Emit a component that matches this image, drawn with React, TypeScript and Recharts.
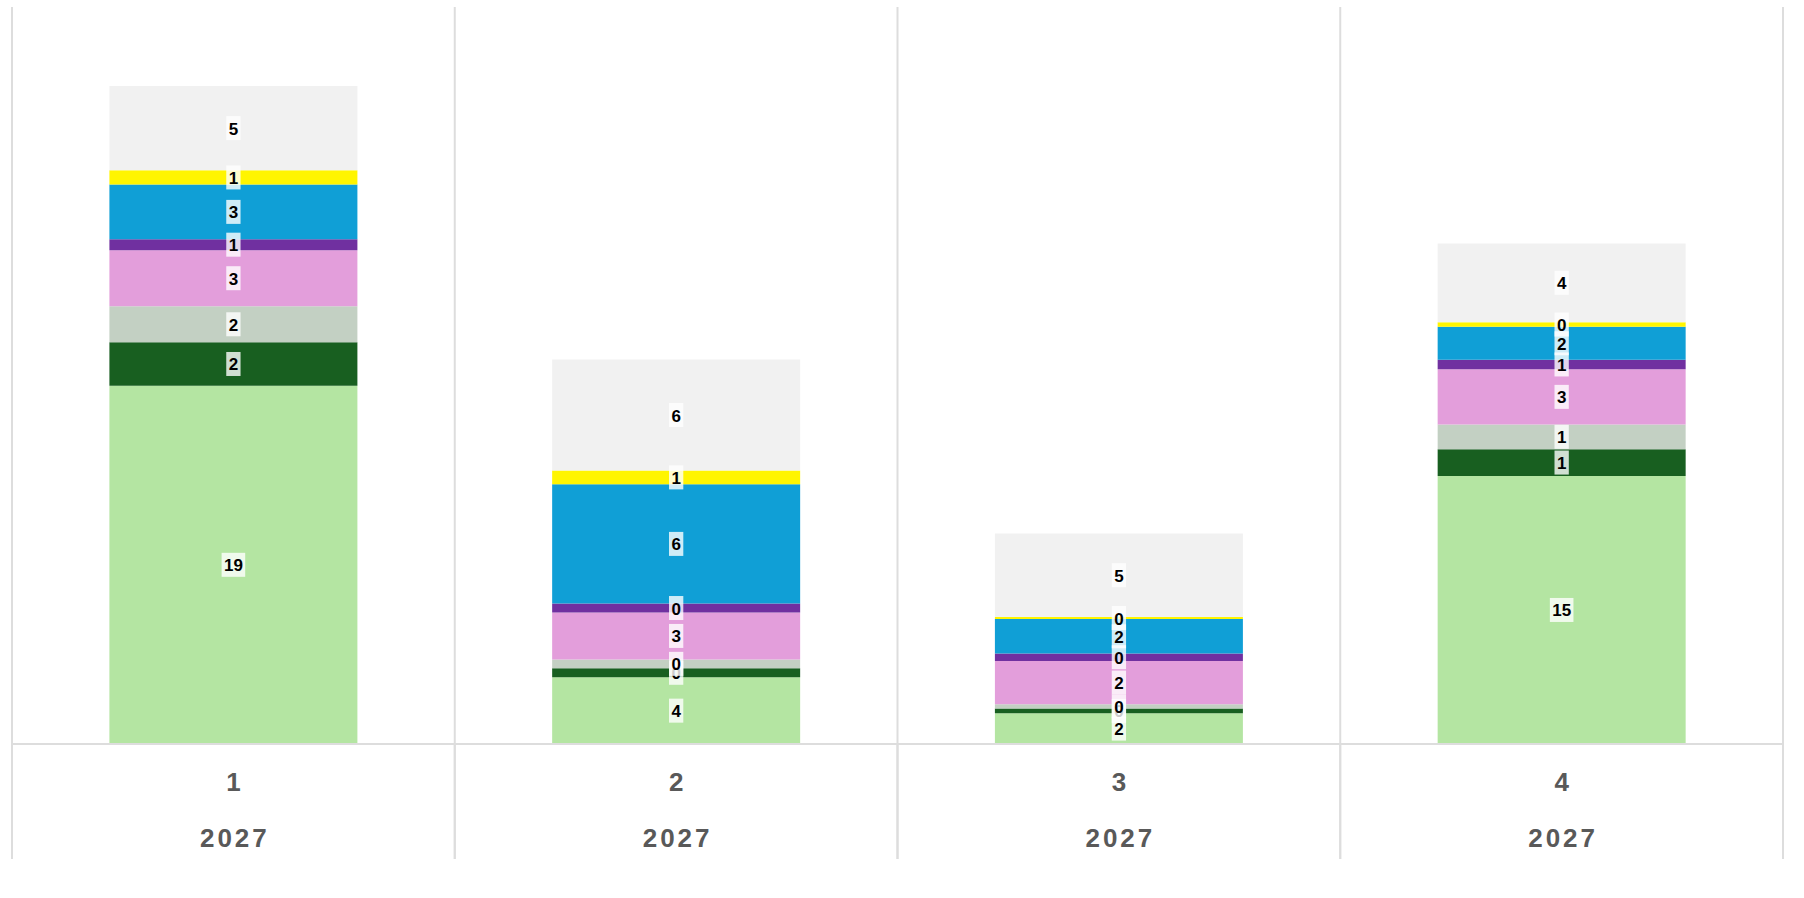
import { BarChart, Bar, XAxis, YAxis, CartesianGrid, LabelList } from "recharts";

// quarters and year shown under each bar
const quarters = ["1", "2", "3", "4"];
const years = ["2027", "2027", "2027", "2027"];

// stacked series, bottom to top
const lightGreen = [19.45, 3.62, 1.67, 14.55];
const darkGreen = [2.35, 0.49, 0.25, 1.45];
const greyGreen = [1.96, 0.48, 0.24, 1.34];
const pink = [3.04, 2.55, 2.35, 3.0];
const purple = [0.6, 0.48, 0.4, 0.52];
const blue = [2.96, 6.48, 1.87, 1.78];
const yellow = [0.78, 0.74, 0.11, 0.25];
const grey = [4.57, 6.03, 4.54, 4.28];

const series = [
    { key: "lightGreen", values: lightGreen, color: "#B4E5A2" },
    { key: "darkGreen", values: darkGreen, color: "#185F20" },
    { key: "greyGreen", values: greyGreen, color: "#C3D0C3" },
    { key: "pink", values: pink, color: "#E39EDB" },
    { key: "purple", values: purple, color: "#7030A0" },
    { key: "blue", values: blue, color: "#109FD6" },
    { key: "yellow", values: yellow, color: "#FFF500" },
    { key: "grey", values: grey, color: "#F1F1F1" },
];

const data = quarters.map((q, i) => {
    const row: Record<string, string | number> = { quarter: q, year: years[i] };
    series.forEach((s) => (row[s.key] = s.values[i]));
    return row;
});

const W = 1804;
const H = 898;
const MARGIN = { top: 6, right: 21, bottom: 40, left: 12 };
const AXIS_H = 115;
const BAND = (W - MARGIN.left - MARGIN.right) / quarters.length;
const LINE = "#DDDDDD";
const FONT = "'Liberation Sans', Arial, sans-serif";

function ValueLabel(props: any) {
    const { x, y, width, height, value } = props;
    if (value == null) return null;
    const txt = String(Math.round(Number(value)));
    const cx = Number(x) + Number(width) / 2;
    const cy = Number(y) + Number(height) / 2;
    const w = txt.length * 9.3 + 5;
    return (
        <g>
            <rect x={cx - w / 2} y={cy - 12} width={w} height={24} fill="#fff" fillOpacity={0.8} />
            <text
                x={cx}
                y={cy + 1}
                textAnchor="middle"
                dominantBaseline="central"
                fontFamily={FONT}
                fontWeight="bold"
                fontSize={17}
                fill="#000"
            >
                {txt}
            </text>
        </g>
    );
}

function QuarterTick(props: any) {
    const { x, y, payload, index } = props;
    const year = years[index] ?? "";
    return (
        <g>
            <line x1={x - BAND / 2} x2={x - BAND / 2} y1={y} y2={y + AXIS_H} stroke={LINE} strokeWidth={2} />
            <line x1={x + BAND / 2} x2={x + BAND / 2} y1={y} y2={y + AXIS_H} stroke={LINE} strokeWidth={2} />
            <text x={x + 1.5} y={y + 47} textAnchor="middle" fontFamily={FONT} fontWeight="bold" fontSize={26} letterSpacing={3} fill="#595959">
                {payload.value}
            </text>
            <text x={x + 1.5} y={y + 103} textAnchor="middle" fontFamily={FONT} fontWeight="bold" fontSize={26} letterSpacing={3} fill="#595959">
                {year}
            </text>
        </g>
    );
}

export default function App() {
    return (
        <div style={{ position: "absolute", left: 0, top: 1, background: "#fff" }}>
            <BarChart width={W} height={H} data={data} margin={MARGIN} barCategoryGap="22%">
                <CartesianGrid
                    horizontal={false}
                    stroke={LINE}
                    strokeWidth={2}
                    verticalCoordinatesGenerator={({ offset }: any) =>
                        [0, 1, 2, 3, 4].map((i) => offset.left + (i * offset.width) / 4)
                    }
                />
                <XAxis
                    dataKey="quarter"
                    height={AXIS_H}
                    tickLine={false}
                    tickSize={0}
                    tickMargin={0}
                    axisLine={{ stroke: LINE, strokeWidth: 2 }}
                    tick={<QuarterTick />}
                    interval={0}
                />
                <YAxis hide domain={[0, 40]} />

                {series.map((s) => (
                    <Bar key={s.key} dataKey={s.key} stackId="a" fill={s.color} isAnimationActive={false}>
                        <LabelList dataKey={s.key} position="center" content={<ValueLabel />} />
                    </Bar>
                ))}
            </BarChart>
        </div>
    );
}
